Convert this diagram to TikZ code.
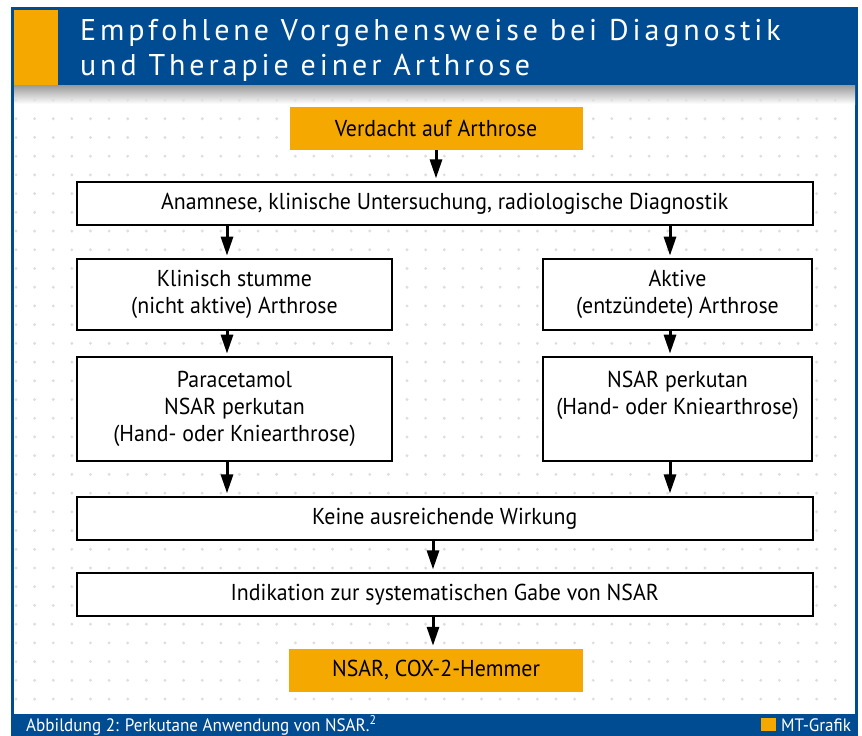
\documentclass[tikz,border=0pt]{standalone}
\usepackage{fontspec}
\setmainfont[FakeStretch=0.95]{PT Sans}
\newfontfamily\titelfont[LetterSpace=13]{PT Sans}
\usetikzlibrary{arrows.meta}

\definecolor{mtblau}{HTML}{004C93}
\definecolor{mtorange}{HTML}{F5A800}
\definecolor{punkt}{HTML}{DEDEDE}

\newcommand{\zeilen}[1]{\begin{tabular}{@{}c@{}}#1\end{tabular}}

\tikzset{
  kasten/.style={draw=black, line width=1.7pt, fill=white, inner sep=0pt,
    font=\fontsize{23}{27}\selectfont},
  gelb/.style={fill=mtorange, inner sep=0pt, font=\fontsize{23}{27}\selectfont},
  pfeil/.style={line width=3pt, shorten >=2.5pt, -{Triangle[width=12pt,length=19pt]}},
  weiss/.style={anchor=base west, text=white, inner sep=0pt},
}

\begin{document}
\begin{tikzpicture}[x=1pt, y=-1pt]
    \useasboundingbox (0,0) rectangle (862,736);
    % 边框和底色
    \fill[mtblau] (11,7) rectangle (858,736);
    \fill[white] (14,85) rectangle (855,714);
    \shade[top color=black!40, bottom color=white] (14,85) rectangle (855,104);
    % 点阵
    \foreach \i in {0,...,44}
        \foreach \j in {0,...,32}
            \fill[punkt] (16+\i*18.62, 100+\j*18.72) circle (1.6);

    % 标题
    \fill[mtorange] (14,10) rectangle (58,85);
    \node[weiss, font=\titelfont\fontsize{30}{35}\selectfont] (titel1) at (80,40) {Empfohlene Vorgehensweise bei Diagnostik};
    \node[weiss, font=\titelfont\fontsize{30}{35}\selectfont] (titel2) at (80,75) {und Therapie einer Arthrose};

    % 流程框
    \node[gelb, minimum width=293pt, minimum height=43pt] (verdacht) at (436,128.5) {Verdacht auf Arthrose};
    \node[kasten, minimum width=736pt, minimum height=43.5pt] (anamnese) at (444.7,203.5)
        {Anamnese, klinische Untersuchung, radiologische Diagnostik\hspace{17pt}};
    \node[kasten, minimum width=315pt, minimum height=71pt] (stumm) at (234.5,294.5)
        {\zeilen{Klinisch stumme\\(nicht aktive) Arthrose}\hspace{29pt}};
    \node[kasten, minimum width=269pt, minimum height=71pt] (aktiv) at (677.5,294.5)
        {\zeilen{Aktive\\(entzündete) Arthrose}\hspace{32pt}};
    \node[kasten, minimum width=315pt, minimum height=104pt] (para) at (234.5,409)
        {\zeilen{Paracetamol\\NSAR perkutan\\(Hand- oder Kniearthrose)}};
    \node[kasten, minimum width=269pt, minimum height=104pt] (perk) at (677.5,409)
        {\zeilen{NSAR perkutan\\(Hand- oder Kniearthrose)\\ \strut}};
    \node[kasten, minimum width=736pt, minimum height=43.5pt] (keine) at (444.7,518.5)
        {Keine ausreichende Wirkung\hspace{18pt}};
    \node[kasten, minimum width=736pt, minimum height=43.5pt] (indik) at (444.7,594.5)
        {Indikation zur systematischen Gabe von NSAR\hspace{18pt}};
    \node[gelb, minimum width=294pt, minimum height=43pt] (cox) at (436,670) {NSAR, COX-2-Hemmer};

    % 箭头
    \coordinate (links) at (227,0);
    \coordinate (rechts) at (670,0);
    \coordinate (mitte) at (433,0);
    \draw[pfeil] (verdacht.south) -- (verdacht.south |- anamnese.north);
    \draw[pfeil] (anamnese.south -| links) -- (stumm.north -| links);
    \draw[pfeil] (anamnese.south -| rechts) -- (aktiv.north -| rechts);
    \draw[pfeil] (stumm.south -| links) -- (para.north -| links);
    \draw[pfeil] (aktiv.south -| rechts) -- (perk.north -| rechts);
    \draw[pfeil] (para.south -| links) -- (keine.north -| links);
    \draw[pfeil] (perk.south -| rechts) -- (keine.north -| rechts);
    \draw[pfeil] (keine.south -| mitte) -- (indik.north -| mitte);
    \draw[pfeil] (indik.south -| mitte) -- (cox.north -| mitte);

    % 图注
    \node[weiss, font=\fontsize{18}{20}\selectfont] (fuss) at (26,731) {Abbildung 2: Perkutane Anwendung von NSAR.\textsuperscript{2}};
    \fill[mtorange] (761,717.5) rectangle (776,731);
    \node[weiss, font=\fontsize{18}{20}\selectfont] (grafik) at (781,731) {MT-Grafik};
\end{tikzpicture}
\end{document}
